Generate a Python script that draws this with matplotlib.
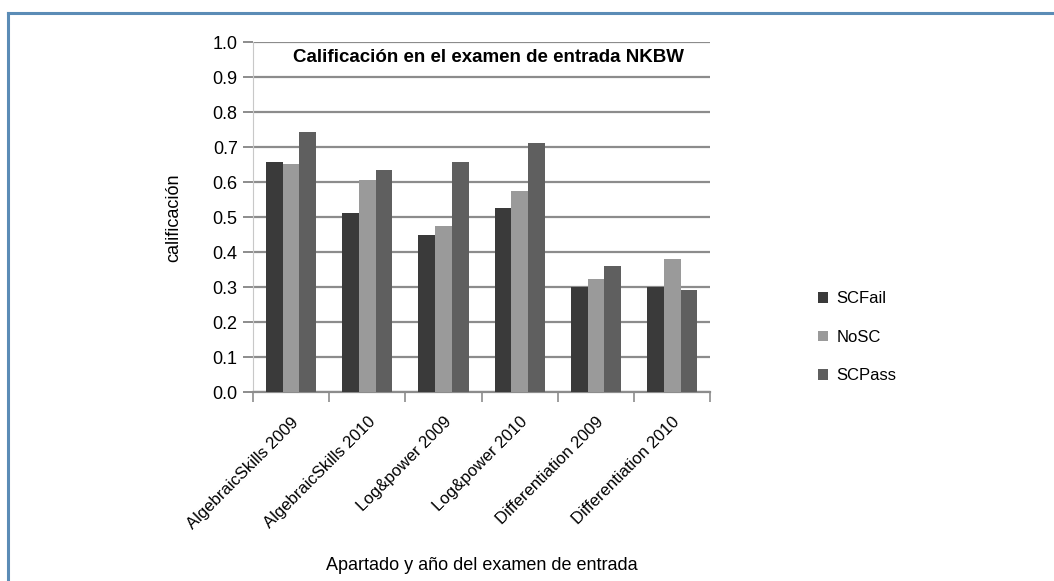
import matplotlib
matplotlib.use("Agg")
import matplotlib.pyplot as plt
import numpy as np

plt.rcParams["font.family"] = ["Liberation Sans", "DejaVu Sans"]

categories = [
    "AlgebraicSkills 2009",
    "AlgebraicSkills 2010",
    "Log&power 2009",
    "Log&power 2010",
    "Differentiation 2009",
    "Differentiation 2010",
]
sc_fail = [0.657, 0.513, 0.450, 0.527, 0.300, 0.300]
no_sc = [0.652, 0.607, 0.476, 0.575, 0.323, 0.382]
sc_pass = [0.744, 0.635, 0.657, 0.711, 0.360, 0.293]

_SERIES = [
    ("SCFail", sc_fail, "#3a3a3a"),
    ("NoSC", no_sc, "#9a9a9a"),
    ("SCPass", sc_pass, "#5f5f5f"),
]

fig = plt.figure(figsize=(10.54, 5.81), dpi=100)

# outer frame (blue top + left edges)
fig.add_artist(plt.Line2D([0.0072, 1.0], [0.978, 0.978], color="#5b8cb6", lw=2.2))
fig.add_artist(plt.Line2D([0.0072, 0.0072], [0.0, 0.978], color="#5b8cb6", lw=2.2))

ax = fig.add_axes([0.240, 0.325, 0.434, 0.602])
x = np.arange(len(categories))
w = 0.22
for i, (lbl, vals, c) in enumerate(_SERIES):
    ax.bar(x + (i - 1) * w, vals, width=w, color=c, label=lbl, zorder=3)

ax.set_xlim(-0.5, len(categories) - 0.5)
ax.set_ylim(0, 1.0)
ax.set_yticks(np.arange(0, 1.01, 0.1))
ax.set_yticklabels([f"{v:.1f}" for v in np.arange(0, 1.01, 0.1)], fontsize=13)
ax.yaxis.grid(True, color="#8c8c8c", lw=1.6, zorder=0)
ax.tick_params(axis="y", length=7, color="#8c8c8c", width=1.4, pad=4)

ax.set_xticks(x)
ax.set_xticklabels(categories, rotation=45, ha="right", rotation_mode="anchor", fontsize=12)
ax.tick_params(axis="x", length=0, pad=16)
ax.set_xticks(np.arange(-0.5, len(categories)), minor=True)
ax.tick_params(axis="x", which="minor", length=7, color="#8c8c8c", width=1.2)

for s in ["top", "right"]:
    ax.spines[s].set_visible(False)
ax.spines["left"].set_color("#c8c8c8")
ax.spines["bottom"].set_color("#8c8c8c")
ax.spines["bottom"].set_linewidth(1.6)

ax.set_ylabel("calificación", fontsize=13, labelpad=22)
ax.set_xlabel("Apartado y año del examen de entrada", fontsize=13, labelpad=18)
ax.text(0.515, 0.958, "Calificación en el examen de entrada NKBW", transform=ax.transAxes,
        ha="center", va="center", fontsize=13.5, fontweight="bold", zorder=5)

leg = ax.legend(loc="center left", bbox_to_anchor=(1.235, 0.157), frameon=False, fontsize=12,
                handlelength=0.6, handleheight=0.6, handletextpad=0.5, labelspacing=1.4,
                borderpad=0, borderaxespad=0)

fig.savefig("out.png", dpi=100)
